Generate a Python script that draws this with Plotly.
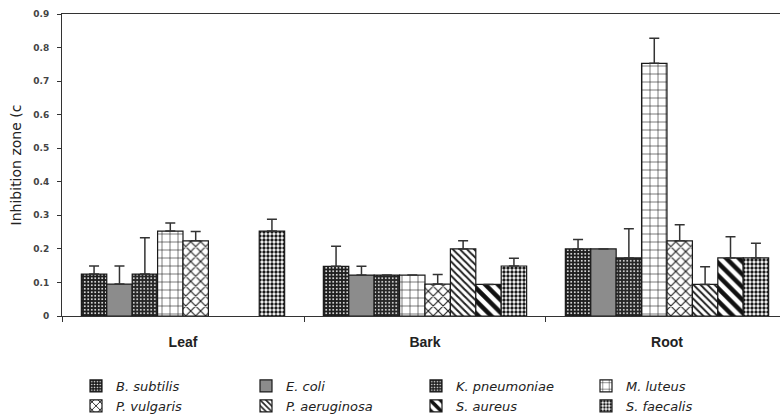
import plotly.graph_objects as go

# Plant parts (x categories)
parts = ["Leaf", "Bark", "Root"]

# Test organisms (one bar series each)
organisms = ["B. subtilis", "E. coli", "K. pneumoniae", "M. luteus",
             "P. vulgaris", "P. aeruginosa", "S. aureus", "S. faecalis"]

# Mean inhibition zone per organism, ordered Leaf, Bark, Root
b_subtilis = [0.125, 0.148, 0.200]
e_coli = [0.095, 0.122, 0.200]
k_pneumoniae = [0.125, 0.122, 0.173]
m_luteus = [0.253, 0.122, 0.753]
p_vulgaris = [0.224, 0.095, 0.224]
p_aeruginosa = [None, 0.200, 0.094]
s_aureus = [None, 0.094, 0.173]
s_faecalis = [0.253, 0.149, 0.173]

# Upper error (standard deviation) per organism
b_subtilis_err = [0.024, 0.060, 0.028]
e_coli_err = [0.054, 0.026, 0.0]
k_pneumoniae_err = [0.108, 0.0, 0.087]
m_luteus_err = [0.024, 0.0, 0.075]
p_vulgaris_err = [0.028, 0.029, 0.048]
p_aeruginosa_err = [None, 0.024, 0.053]
s_aureus_err = [None, 0.0, 0.063]
s_faecalis_err = [0.035, 0.023, 0.044]

values = [b_subtilis, e_coli, k_pneumoniae, m_luteus,
          p_vulgaris, p_aeruginosa, s_aureus, s_faecalis]
errors = [b_subtilis_err, e_coli_err, k_pneumoniae_err, m_luteus_err,
          p_vulgaris_err, p_aeruginosa_err, s_aureus_err, s_faecalis_err]

# Monochrome fill styles for the series
patterns = [
    dict(shape=".", bgcolor="#1e1e1e", fgcolor="#ffffff", size=3.5, solidity=0.22, fillmode="replace"),
    None,
    dict(shape=".", bgcolor="#262626", fgcolor="#f2f2f2", size=3.5, solidity=0.22, fillmode="replace"),
    dict(shape="+", bgcolor="#ffffff", fgcolor="#1a1a1a", size=8, solidity=0.14, fillmode="replace"),
    dict(shape="x", bgcolor="#ffffff", fgcolor="#222222", size=7, solidity=0.3, fillmode="replace"),
    dict(shape="\\", bgcolor="#ffffff", fgcolor="#222222", size=5, solidity=0.4, fillmode="replace"),
    dict(shape="\\", bgcolor="#ffffff", fgcolor="#111111", size=9, solidity=0.5, fillmode="replace"),
    dict(shape=".", bgcolor="#ffffff", fgcolor="#1a1a1a", size=4, solidity=0.55, fillmode="replace"),
]

fig = go.Figure()
for name, vals, errs, pat in zip(organisms, values, errors, patterns):
    marker = dict(color="#8c8c8c", line=dict(color="#1a1a1a", width=1.2))
    if pat is not None:
        marker["pattern"] = pat
    fig.add_trace(go.Bar(
        name=name, x=parts, y=vals, marker=marker,
        error_y=dict(type="data", symmetric=False, array=errs,
                     arrayminus=[0 if e is not None else None for e in errs],
                     color="#333333", thickness=1.5, width=5),
    ))

fig.update_layout(
    width=780, height=417,
    margin=dict(l=62, r=0, t=14, b=101),
    paper_bgcolor="white", plot_bgcolor="white",
    barmode="group", bargap=0.16, bargroupgap=0,
    showlegend=True,
    legend=dict(orientation="h", xref="container", yref="container",
                x=76 / 780, y=1 - 371 / 417, xanchor="left", yanchor="top",
                entrywidth=125, entrywidthmode="pixels", tracegroupgap=0,
                font=dict(family="DejaVu Sans", size=13, style="italic", color="#222222"),
                bgcolor="rgba(0,0,0,0)"),
    xaxis=dict(type="category", range=[-0.5, 2.467], tickson="boundaries",
               ticks="outside", ticklen=5, tickcolor="#333", showline=True,
               linecolor="#333", linewidth=1, mirror=True, showgrid=False,
               ticklabelstandoff=13,
               tickfont=dict(family="Liberation Sans", size=14, weight="bold", color="#222")),
    yaxis=dict(range=[0, 0.9], dtick=0.1, ticks="outside", ticklen=4,
               tickcolor="#333", showline=True, linecolor="#333", linewidth=1,
               showgrid=False, zeroline=False, ticklabelstandoff=6,
               tickfont=dict(family="DejaVu Sans", size=9, weight="bold", color="#444"),
               title=dict(text="Inhibition zone (c", standoff=8,
                          font=dict(family="DejaVu Sans", size=14, color="#222"))),
)

fig.write_html("out.html")
